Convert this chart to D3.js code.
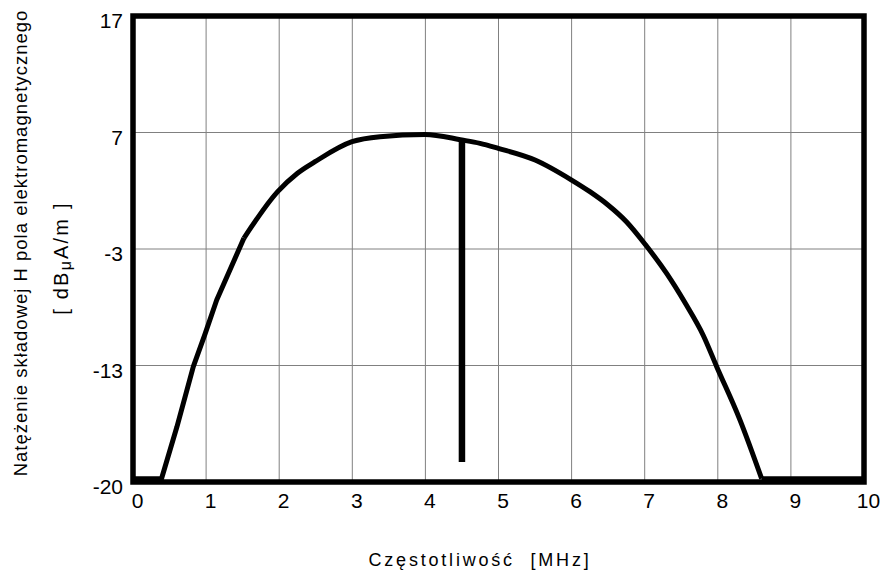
<!DOCTYPE html>
<html>
<head>
<meta charset="utf-8">
<script src="https://cdn.jsdelivr.net/npm/d3@7"></script>
<style>
  body { margin: 0; background: #fff; }
  text { font-family: "Liberation Sans", Arial, sans-serif; fill: #000; }
</style>
</head>
<body>
<svg id="chart"></svg>
<script>
// frequency [MHz] and field strength [dBuA/m]
const freq = [0, 0.39, 0.6, 0.825, 0.985, 1.145, 1.518, 1.979, 2.25, 2.49, 2.996, 3.379, 3.995, 4.497, 4.747, 4.997, 5.5, 6.0, 6.25, 6.498, 6.75, 7.014, 7.3, 7.55, 7.8, 7.985, 8.304, 8.6, 10];
const level = [-19.8, -19.8, -16.7, -13.07, -10.3, -7.38, -2.06, 1.92, 3.5, 4.49, 6.21, 6.64, 6.83, 6.36, 6.07, 5.64, 4.64, 2.92, 1.92, 0.78, -0.66, -2.66, -5.1, -7.6, -10.4, -13.07, -16.28, -19.8, -19.8];

// vertical marker
const markerFreq = [4.5];
const markerTop = [6.4];
const markerBottom = [-18.8];

const xTicks = [0, 1, 2, 3, 4, 5, 6, 7, 8, 9, 10];
const yTicks = [17, 7, -3, -13, -20];

const xTitle = "Częstotliwość  [MHz]";
const yTitle1 = "Natężenie składowej H pola elektromagnetycznego";

const width = 885, height = 571;
const plotLeft = 133, plotRight = 864, plotTop = 16, plotBottom = 482;
const band = (plotBottom - plotTop) / 4;

const svg = d3.select("#chart").attr("width", width).attr("height", height);

const x = d3.scaleLinear().domain([0, 10]).range([plotLeft, plotRight]);
// the axis has equal bands for uneven steps (-20..-13 and -13..17)
const y = d3.scaleLinear().domain([-20, -13, 17]).range([plotBottom, plotBottom - band, plotTop]);

// grid
svg.append("g")
  .selectAll("line")
  .data(xTicks.slice(1, -1))
  .enter()
  .append("line")
  .attr("x1", (d) => x(d))
  .attr("x2", (d) => x(d))
  .attr("y1", plotTop)
  .attr("y2", plotBottom)
  .attr("stroke", "#808080")
  .attr("stroke-width", 1);

svg.append("g")
  .selectAll("line")
  .data(yTicks.slice(1, -1))
  .enter()
  .append("line")
  .attr("x1", plotLeft)
  .attr("x2", plotRight)
  .attr("y1", (d) => y(d))
  .attr("y2", (d) => y(d))
  .attr("stroke", "#808080")
  .attr("stroke-width", 1);

// curve: floor + straight-ish rise up to the kink at ~1.5 MHz, smooth dome after
const points = freq.map((f, i) => [f, level[i]]);
const n = points.length;
const kink = freq.indexOf(1.518);
const pieces = [
  { pts: points.slice(0, kink + 1), curve: d3.curveLinear },
  { pts: points.slice(kink, n - 1), curve: d3.curveMonotoneX },
  { pts: points.slice(n - 2), curve: d3.curveLinear },
];
svg.append("g")
  .selectAll("path")
  .data(pieces)
  .enter()
  .append("path")
  .attr("fill", "none")
  .attr("stroke", "#000")
  .attr("stroke-width", 5)
  .attr("stroke-linejoin", "round")
  .attr("d", (p) => d3.line()
    .x((d) => x(d[0]))
    .y((d) => y(d[1]))
    .curve(p.curve)(p.pts));

// marker
svg.append("g")
  .selectAll("line")
  .data(markerFreq)
  .enter()
  .append("line")
  .attr("x1", (d) => x(d))
  .attr("x2", (d) => x(d))
  .attr("y1", (d, i) => y(markerTop[i]))
  .attr("y2", (d, i) => y(markerBottom[i]))
  .attr("stroke", "#000")
  .attr("stroke-width", 6.5);

// frame
svg.append("rect")
  .attr("x", plotLeft)
  .attr("y", plotTop)
  .attr("width", plotRight - plotLeft)
  .attr("height", plotBottom - plotTop)
  .attr("fill", "none")
  .attr("stroke", "#000")
  .attr("stroke-width", 5.5);

// tick labels (plain hyphen for negatives, like the original)
const xAxis = svg.append("g")
  .attr("transform", `translate(4, ${plotBottom})`)
  .call(d3.axisBottom(x).tickValues(xTicks).tickSize(0).tickPadding(0).tickFormat((d) => String(d)));
xAxis.select(".domain").remove();
xAxis.selectAll("text")
  .attr("y", 26)
  .attr("dy", null)
  .attr("font-size", 21)
  .attr("font-family", "Liberation Sans, Arial, sans-serif")
  .attr("fill", "#000");

const yAxis = svg.append("g")
  .attr("transform", `translate(${plotLeft - 10}, 0)`)
  .call(d3.axisLeft(y).tickValues(yTicks).tickSize(0).tickPadding(0).tickFormat((d) => String(d)));
yAxis.select(".domain").remove();
yAxis.selectAll("text")
  .attr("y", 11.5)
  .attr("dy", null)
  .attr("font-size", 21)
  .attr("font-family", "Liberation Sans, Arial, sans-serif")
  .attr("fill", "#000");

// axis titles
svg.append("text")
  .attr("x", 480)
  .attr("y", 566)
  .attr("text-anchor", "middle")
  .attr("font-size", 18)
  .style("letter-spacing", "2.8px")
  .style("white-space", "pre")
  .text(xTitle);

svg.append("text")
  .attr("transform", "translate(27, 243) rotate(-90)")
  .attr("text-anchor", "middle")
  .attr("font-size", 18.5)
  .style("letter-spacing", "1px")
  .text(yTitle1);

const unit = svg.append("text")
  .attr("transform", "translate(68, 258) rotate(-90)")
  .attr("text-anchor", "middle")
  .attr("font-size", 20)
  .style("letter-spacing", "2.2px")
  .style("white-space", "pre");
unit.append("tspan").text("[ dB");
unit.append("tspan").attr("dy", 3).attr("font-size", 16).text("μ");
unit.append("tspan").attr("dy", -3).text("A/m ]");
</script>
</body>
</html>
